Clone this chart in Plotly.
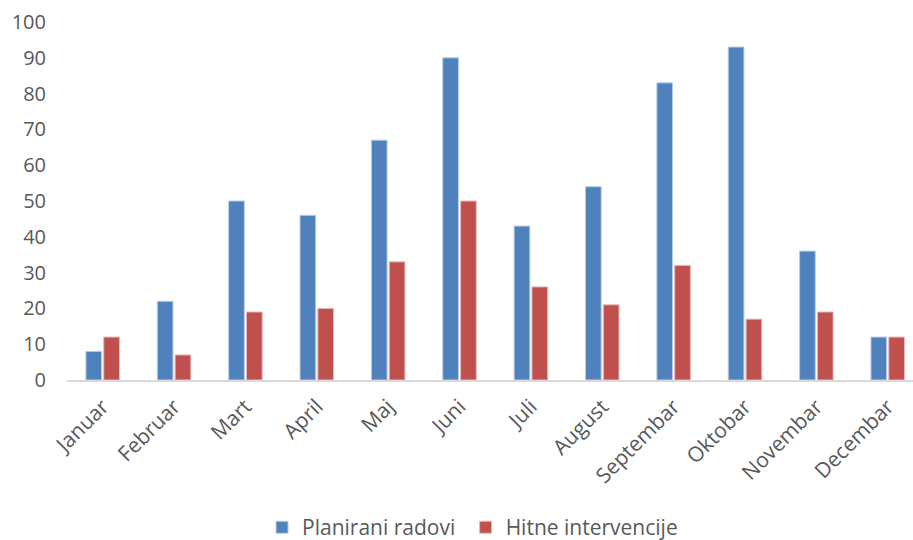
import plotly.graph_objects as go

months = ["Januar", "Februar", "Mart", "April", "Maj", "Juni", "Juli",
          "August", "Septembar", "Oktobar", "Novembar", "Decembar"]
planirani = [8, 22, 50, 46, 67, 90, 43, 54, 83, 93, 36, 12]
hitne = [12, 7, 19, 20, 33, 50, 26, 21, 32, 17, 19, 12]
y_ticks = list(range(0, 101, 10))

BLUE = "#4F81BD"
RED = "#C0504D"
FONT = "Open Sans"
TEXT = "#595959"

fig = go.Figure()
fig.add_trace(go.Bar(
    name="Planirani radovi", x=months, y=planirani, legend="legend",
    marker=dict(color=BLUE, line=dict(color="#B9CDE5", width=1)),
))
fig.add_trace(go.Bar(
    name="Hitne intervencije", x=months, y=hitne, legend="legend2",
    marker=dict(color=RED, line=dict(color="#E6B9B8", width=1)),
))

legend_common = dict(
    orientation="h", xanchor="left",
    yref="container", y=0.023, yanchor="middle",
    xref="container", itemwidth=30,
    font=dict(size=21, color=TEXT),
    bgcolor="rgba(0,0,0,0)",
)

fig.update_layout(
    width=913, height=540,
    margin=dict(l=67, r=0, t=22, b=160),
    paper_bgcolor="white", plot_bgcolor="white",
    barmode="group", bargap=0.5, bargroupgap=0.12,
    font=dict(family=FONT, color=TEXT),
    showlegend=True,
    legend=dict(legend_common, x=0.287),
    legend2=dict(legend_common, x=0.510),
)
fig.update_xaxes(
    range=[-0.5, 11.354],
    showgrid=False, zeroline=False,
    showline=True, linecolor="#D9D9D9", linewidth=2,
    ticks="", tickangle=-45, ticklabelstandoff=4,
    tickfont=dict(size=21, color=TEXT),
)
fig.update_yaxes(
    range=[0, 100], tickvals=y_ticks,
    showgrid=False, zeroline=False, showline=False,
    ticks="", ticklabelstandoff=20,
    tickfont=dict(size=20, color=TEXT),
)

fig.write_html("out.html")
